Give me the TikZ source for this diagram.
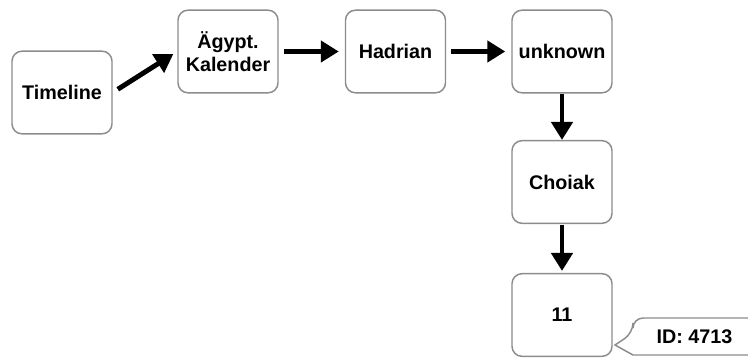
\documentclass[tikz,border=0pt]{standalone}
\usepackage{fontspec}
\setmainfont{Liberation Sans}
\usetikzlibrary{arrows.meta}
\tikzset{
  px/.style={x=0.75pt,y=-0.75pt},
  box/.style={draw=boxgray, line width=1.1pt, rounded corners=7.5pt, fill=white,
    minimum width=75pt, minimum height=62pt, inner sep=0pt, align=center,
    font=\fontsize{14.8}{17.5}\selectfont\bfseries},
  conn/.style={line width=3.7pt, -{Triangle[length=13.5pt,width=15.75pt]}},
}
\definecolor{boxgray}{HTML}{8C8C8C}
\begin{document}
\begin{tikzpicture}[px]
\useasboundingbox (0,0) rectangle (748,358);
\clip (0,0) rectangle (748,358);
\node[box] (tl) at (62,92.5) {Timeline};
\node[box] (ag) at (228,51.5) {Ägypt.\\Kalender};
\node[box] (ha) at (395.5,51.5) {Hadrian};
\node[box] (un) at (562,51.5) {unknown};
\node[box] (ch) at (562,182) {Choiak};
\node[box] (el) at (562,315) {11};
\draw[conn, shorten <=4.5pt, shorten >=3.5pt] (tl.east) -- (ag.west);
\draw[conn, shorten <=3.8pt, shorten >=4.5pt] (ag.east) -- (ha.west);
\draw[conn, shorten <=3.8pt, shorten >=4.5pt] (ha.east) -- (un.west);
\draw[conn, shorten <=0.5pt, shorten >=0pt] (un.south) -- (ch.north);
\draw[conn, shorten <=0.5pt, shorten >=1.5pt] (ch.south) -- (el.north);
\coordinate (tip) at (615,345);
\draw[draw=boxgray, line width=1.1pt, fill=white, rounded corners=7.5pt]
  (780,318) -- (633,318) -- (633,333) [sharp corners] -- (tip) -- (633,355) -- (780,355);
\node[font=\fontsize{14.8}{17.5}\selectfont\bfseries] (id) at (694.5,337) {ID: 4713};
\end{tikzpicture}
\end{document}
